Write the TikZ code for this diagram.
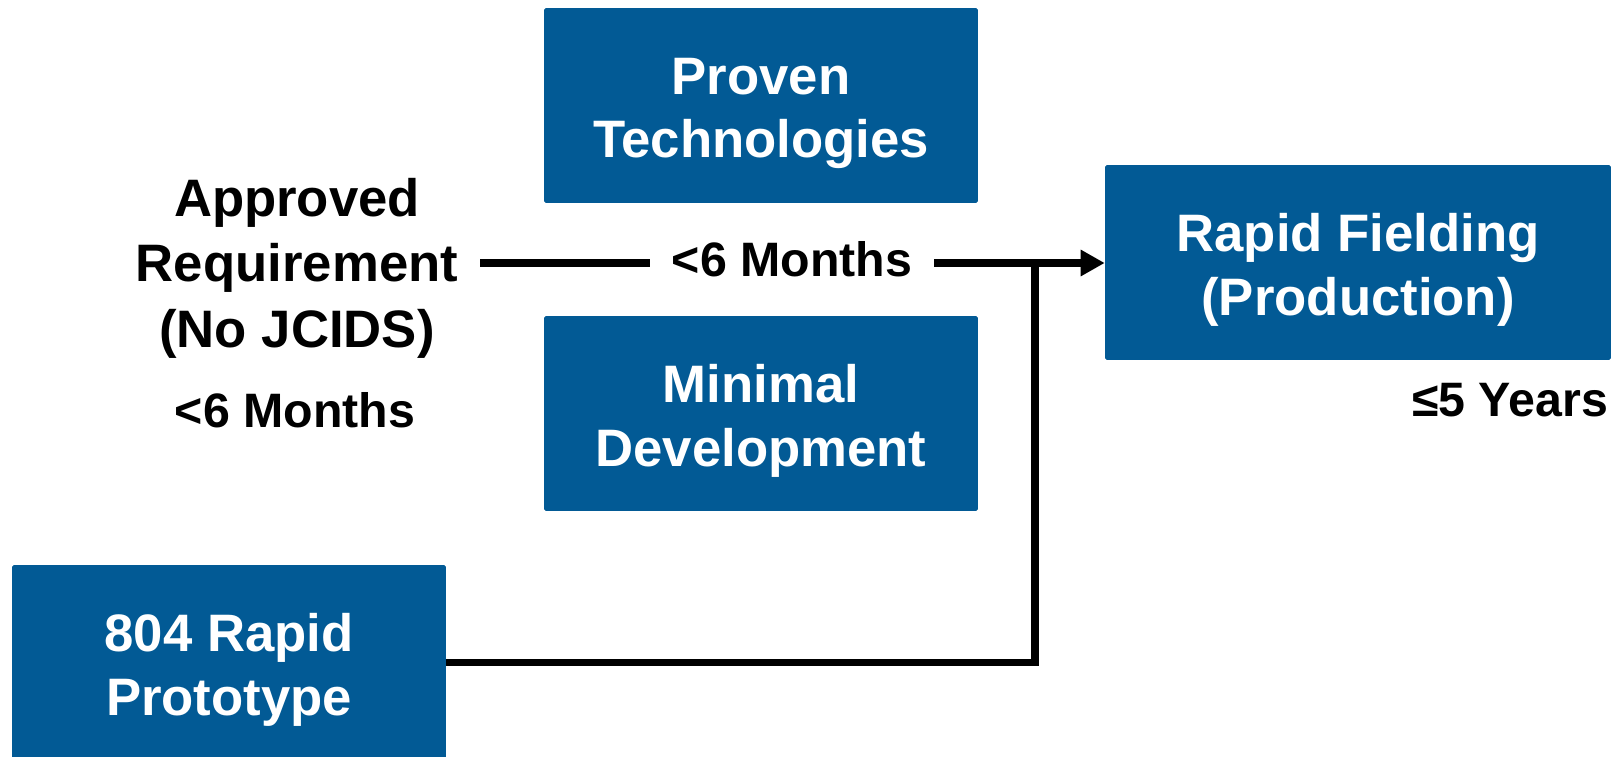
\documentclass[tikz,border=0pt]{standalone}
\usepackage{fontspec}
\setmainfont{Liberation Sans}
\usetikzlibrary{arrows.meta}
\definecolor{dodblue}{RGB}{2,90,149}
\newcommand{\boxtop}{\rule{0pt}{30pt}}

\begin{document}
\begin{tikzpicture}[x=0.02cm,y=-0.02cm,
    bigfont/.style={font=\bfseries\fontsize{30}{36}\selectfont, align=center},
    timefont/.style={font=\bfseries\fontsize{27.5}{33}\selectfont, align=center},
    flow/.style={line width=4.2pt}]

        \useasboundingbox (0,0) rectangle (1619,757);

        \begin{scope}[every node/.style={bigfont, fill=dodblue, text=white, rounded corners=1pt,
                      minimum width=8.68cm, minimum height=3.9cm}]
          \node (proven)    at (761,105.5)  {\boxtop Proven\\Technologies};
          \node (minimal)   at (761,413.5)  {\boxtop Minimal\\Development};
          \node (fielding)  at (1358,262.5) [minimum width=10.12cm] {\boxtop Rapid Fielding\\(Production)};
          \node (prototype) at (229,662.5)  {\boxtop 804 Rapid\\Prototype};
        \end{scope}

        \begin{scope}[every node/.style={inner xsep=12.5pt}]
          \node[bigfont, font=\bfseries\fontsize{30}{37.3}\selectfont] (approved) at (297,268) {Approved\\Requirement\\(No JCIDS)};
          \node[timefont] (reqtime)   at (295,410) {<6 Months};
          \node[timefont] (midtime)   at (792,259) {<6 Months};
          \node[timefont] (fieldtime) at (1510,400) {≤5 Years};
        \end{scope}

        \coordinate (join) at (1035,263);

        \draw[flow] (approved.east |- join) -- (midtime.west |- join);
        \draw[flow, -{Triangle[length=0.48cm,width=0.5cm]}] (midtime.east |- join) -- (join -| fielding.west);
        \draw[flow] (prototype) -| (join);

      \end{tikzpicture}
\end{document}
